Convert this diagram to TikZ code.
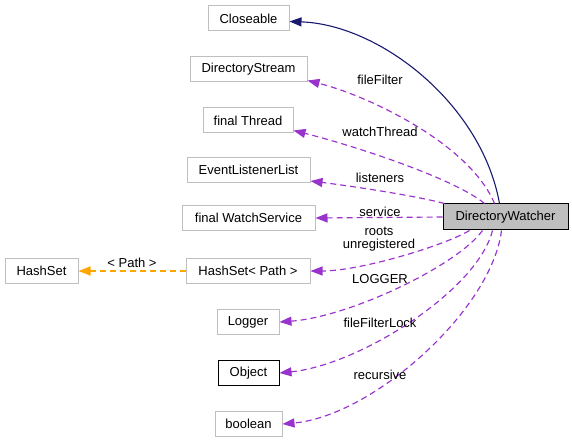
\documentclass[tikz,border=0pt]{standalone}
\usepackage{fontspec}
\setmainfont{Liberation Sans}
\usetikzlibrary{arrows.meta}
\definecolor{edgepurple}{HTML}{9A32CD}
\definecolor{edgenavy}{HTML}{191970}
\definecolor{edgeorange}{HTML}{FFA500}
\definecolor{boxgray}{HTML}{BFBFBF}
\begin{document}
\begin{tikzpicture}[x=1pt,y=-1pt,
  every node/.style={font=\fontsize{13}{14.5}\selectfont},
  cls/.style={draw=boxgray, line width=1pt, fill=white, minimum height=25pt, inner sep=0pt},
  clsblack/.style={cls, draw=black},
  mainbox/.style={draw=black, line width=1pt, fill=boxgray, minimum height=26pt, inner sep=0pt},
  usage/.style={color=edgepurple, line width=1.15pt, dash pattern=on 6pt off 4pt, -{Triangle[length=12pt,width=9pt]}},
  inherit/.style={color=edgenavy, line width=1.1pt, -{Triangle[length=12pt,width=9pt]}},
  tmpl/.style={color=edgeorange, line width=1.4pt, dash pattern=on 6pt off 4pt, -{Triangle[length=12pt,width=9pt]}},
  elabel/.style={inner sep=0pt, align=center, text=black}
]
\useasboundingbox (0,0) rectangle (572,443);
\fill[white] (0,0) rectangle (572,443);

\node[mainbox, minimum width=125pt] (dw) at (505.5,217) {DirectoryWatcher};
\node[cls, minimum width=81pt] (cl) at (248.5,18.5) {Closeable};
\node[cls, minimum width=117pt] (ds) at (248.5,69.5) {DirectoryStream};
\node[cls, minimum width=90pt] (ft) at (248,120.5) {final Thread};
\node[cls, minimum width=123pt] (el) at (248.5,170) {EventListenerList};
\node[cls, minimum width=133pt] (ws) at (248.5,218) {final WatchService};
\node[cls, minimum width=124pt] (hp) at (248,271) {HashSet< Path >};
\node[cls, minimum width=73pt] (hs) at (41.5,271) {HashSet};
\node[cls, minimum width=62pt] (lg) at (248,322) {Logger};
\node[clsblack, minimum width=61pt] (ob) at (248.5,373) {Object};
\node[cls, minimum width=67pt] (bo) at (248.5,424) {boolean};

% inheritance
\draw[inherit] ([xshift=57pt]dw.north west) .. controls +(-18,-100) and +(90,3) .. ([yshift=-3pt]cl.east);

% usage edges
\draw[usage] ([xshift=52pt]dw.north west) .. controls +(-25,-60) and +(60,15) .. ([yshift=2pt]ds.south east);
\draw[usage] ([xshift=42pt]dw.north west) .. controls +(-30,-25) and +(60,15) .. ([yshift=3pt]ft.south east);
\draw[usage] ([xshift=2pt]dw.north west) .. controls +(-30,-8) and +(40,5) .. ([yshift=2pt]el.south east);
\draw[usage] (dw.west) -- (ws.east);
\draw[usage] ([xshift=27pt]dw.south west) .. controls +(-25,15) and +(50,0) .. (hp.east);
\draw[usage] ([xshift=40pt]dw.south west) .. controls +(-25,35) and +(70,-5) .. (lg.east);
\draw[usage] ([xshift=50pt]dw.south west) .. controls +(-15,60) and +(80,-8) .. (ob.east);
\draw[usage] ([xshift=59pt]dw.south west) .. controls +(-10,80) and +(90,-8) .. (bo.east);

% template
\draw[tmpl] (hp.west) -- (hs.east);

% labels
\node[elabel] (lffilter) at (380,80) {fileFilter};
\node[elabel] (lwatch) at (380,132) {watchThread};
\node[elabel] (llist) at (380,178) {listeners};
\node[elabel] (lserv) at (380,212) {service};
\node[elabel] (lroots) at (379,239) {roots\\[-2pt]unregistered};
\node[elabel] (llog) at (380,279) {LOGGER};
\node[elabel] (llock) at (380,323) {fileFilterLock};
\node[elabel] (lrec) at (380,375) {recursive};
\node[elabel] (lpath) at (132,263) {< Path >};
\end{tikzpicture}
\end{document}
